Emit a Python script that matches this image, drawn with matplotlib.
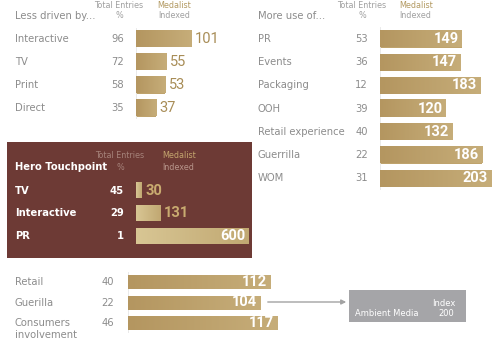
import matplotlib
matplotlib.use("Agg")
import matplotlib.pyplot as plt
import numpy as np
from matplotlib.transforms import Affine2D, blended_transform_factory
from matplotlib.patches import Rectangle
from matplotlib.colors import LinearSegmentedColormap

# data
less_labels = ["Interactive", "TV", "Print", "Direct"]
less_entries = [96, 72, 58, 35]
less_index = [101, 55, 53, 37]

more_labels = ["PR", "Events", "Packaging", "OOH", "Retail experience", "Guerrilla", "WOM"]
more_entries = [53, 36, 12, 39, 40, 22, 31]
more_index = [149, 147, 183, 120, 132, 186, 203]

hero_labels = ["TV", "Interactive", "PR"]
hero_entries = [45, 29, 1]
hero_index = [30, 131, 600]

bottom_labels = ["Retail", "Guerilla", "Consumers\ninvolvement"]
bottom_entries = [40, 22, 46]
bottom_index = [112, 104, 117]

ambient_index = 200

W, H = 499, 353
fig = plt.figure(figsize=(W / 100, H / 100), dpi=100)
plt.rcParams['font.family'] = ['DejaVu Sans']
px = Affine2D().scale(1 / W, -1 / H).translate(0, 1) + fig.transFigure

GRAY = "#8c8c8c"
GOLD = "#a88d57"
BROWN = "#6d3a35"
gold_cmap = LinearSegmentedColormap.from_list("gold", ["#b49660", "#c6ad79"])
light_cmap = LinearSegmentedColormap.from_list("light", ["#d8c694", "#c1a872"])
NUM_FONT = ['Liberation Sans Narrow', 'Roboto', 'DejaVu Sans']


def panel(x0, y_first, step, scale, width_px, n):
    top = y_first - step / 2
    ax = fig.add_axes([x0 / W, 1 - (top + n * step) / H, width_px / W, n * step / H])
    ax.set_xlim(0, width_px / scale)
    ax.set_ylim(n - 0.5, -0.5)
    ax.axis("off")
    return ax


def draw_bars(ax, values, bar_px, step, scale, inside_min=40, out_color=GOLD,
              out_weight="normal", line=True, cmap=gold_cmap):
    h = bar_px / step
    bars = ax.barh(range(len(values)), values, height=h, color="#bfa36c")
    grad = np.linspace(0, 1, 64).reshape(1, -1)
    for b in bars:
        x, y, w, hh = b.get_x(), b.get_y(), b.get_width(), b.get_height()
        ax.imshow(grad, extent=[x, x + w, y + hh, y], aspect="auto", cmap=cmap, zorder=2)
    xl = ax.get_xlim()
    for i, v in enumerate(values):
        if v * scale >= inside_min:
            ax.text(v - 3.5 / scale, i, str(v), ha="right", va="center", color="white",
                    fontsize=10.5, fontweight="bold", family=NUM_FONT, zorder=3)
        else:
            ax.text(v + 3.5 / scale, i, str(v), ha="left", va="center", color=out_color,
                    fontsize=10.5, fontweight=out_weight, family=NUM_FONT, zorder=3)
    if line:
        ax.axvline(0, color="#e6e6e6", lw=0.6, zorder=1)
    ax.set_xlim(0, xl[1])
    ax.set_ylim(len(values) - 0.5, -0.5)


def row_texts(ax, labels, entries, lab_x, num_x, color=GRAY, weight="normal", size=7.2):
    bt = blended_transform_factory(px, ax.transData)
    for i, (lab, e) in enumerate(zip(labels, entries)):
        if "\n" in lab:
            ax.text(lab_x, i - 0.22, lab, transform=bt, ha="left", va="top", color=color,
                    fontsize=size, fontweight=weight, linespacing=1.15)
        else:
            ax.text(lab_x, i, lab, transform=bt, ha="left", va="center", color=color,
                    fontsize=size, fontweight=weight)
        ax.text(num_x, i, str(e), transform=bt, ha="right", va="center", color=color,
                fontsize=size, fontweight=weight)


def header(title, tx, ex, mx, y1, y2, tcol=GRAY, ecol="#a0a0a0", mcol="#b39a62",
           icol="#a0a0a0", tweight="normal", mha="center"):
    fig.text(tx, y2, title, transform=px, ha="left", va="center", color=tcol,
             fontsize=7.2, fontweight=tweight)
    fig.text(ex, y1, "Total Entries", transform=px, ha="center", va="center",
             color=ecol, fontsize=5.8)
    fig.text(ex, y2, "%", transform=px, ha="center", va="center", color=ecol, fontsize=5.8)
    fig.text(mx, y1, "Medalist", transform=px, ha=mha, va="center", color=mcol, fontsize=5.8)
    fig.text(mx, y2, "Indexed", transform=px, ha=mha, va="center", color=icol, fontsize=5.8)


# top left panel
ax1 = panel(136, 39, 23, 0.55, 120, len(less_index))
draw_bars(ax1, less_index, 17, 23, 0.55, inside_min=999)
row_texts(ax1, less_labels, less_entries, 15, 124)
header("Less driven by...", 15, 119, 174, 6, 16)

# top right panel
ax2 = panel(380, 39, 23.2, 0.55, 117, len(more_index))
draw_bars(ax2, more_index, 17, 23.2, 0.55)
row_texts(ax2, more_labels, more_entries, 258, 368)
header("More use of...", 258, 362, 399, 6, 16, mha="left")

# hero panel
fig.patches.append(Rectangle((7, 142), 245, 116, transform=px, facecolor=BROWN,
                             edgecolor="none", zorder=-1))
ax3 = panel(136, 190.7, 22.7, 0.188, 114, len(hero_index))
draw_bars(ax3, hero_index, 15.5, 22.7, 0.188, out_color="#c9ab70", out_weight="bold",
          line=False, cmap=light_cmap)
row_texts(ax3, hero_labels, hero_entries, 15, 124, color="white", weight="bold")
header("Hero Touchpoint", 15, 120, 162, 156, 167, tcol="white", ecol="#a5827a",
       mcol="#c4a56e", icol="#b8968c", tweight="bold", mha="left")

# bottom panel
ax4 = panel(128, 282, 20.5, 1.275, 152, len(bottom_index))
draw_bars(ax4, bottom_index, 14, 20.5, 1.275)
row_texts(ax4, bottom_labels, bottom_entries, 15, 114)

# ambient media box
ax4.annotate("", xy=(349, 302), xytext=(265, 302), xycoords=px, textcoords=px,
             arrowprops=dict(arrowstyle="-|>", color="#a3a3a3", lw=1, mutation_scale=7))
fig.patches.append(Rectangle((349, 290), 117, 32, transform=px, facecolor="#a5a5a8",
                             edgecolor="none"))
fig.text(355, 314, "Ambient Media", transform=px, ha="left", va="center",
         color="white", fontsize=6)
fig.text(456, 304, "Index", transform=px, ha="right", va="center", color="white", fontsize=6)
fig.text(446, 314, str(ambient_index), transform=px, ha="center", va="center",
         color="white", fontsize=6)

fig.savefig("out.png", dpi=100, facecolor="white")
